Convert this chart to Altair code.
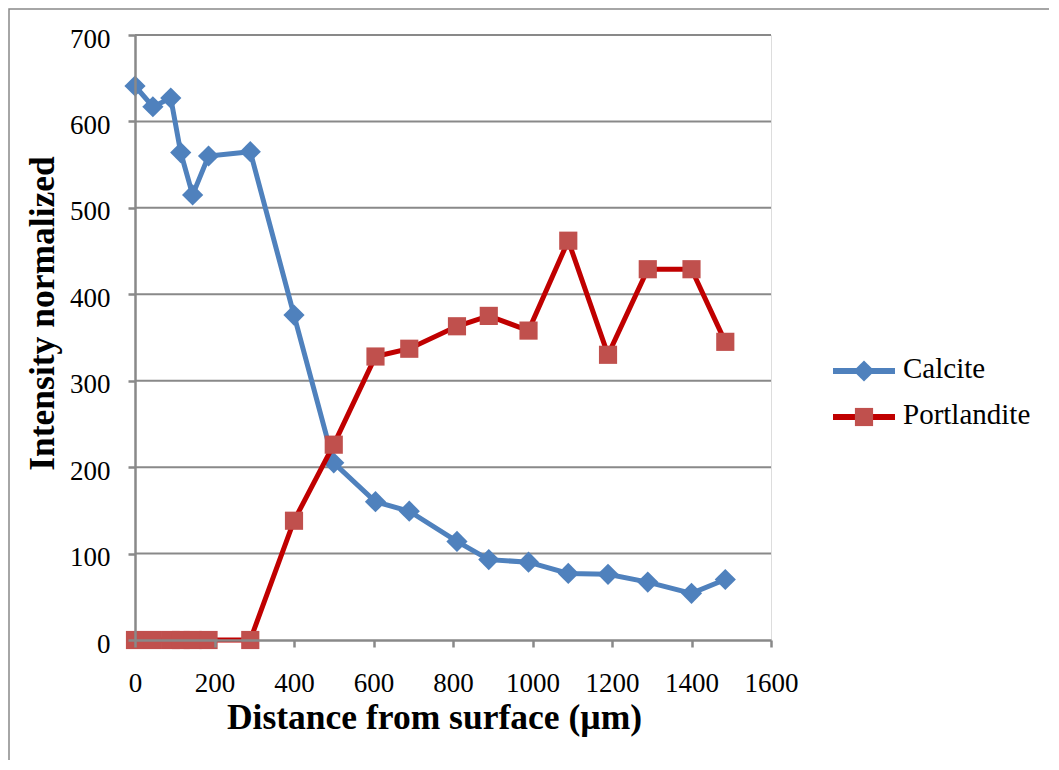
import altair as alt
import pandas as pd

distance = [0, 45, 90, 115, 145, 185, 290, 400, 500, 605, 690, 810, 890, 990, 1090, 1190, 1290, 1400, 1485]
calcite = [641, 617, 627, 564, 515, 560, 565, 376, 205, 160, 149, 114, 93, 90, 77, 76, 67, 54, 70]
portlandite = [0, 0, 0, 0, 0, 0, 0, 138, 226, 328, 337, 363, 375, 358, 462, 330, 429, 429, 345]
grid_values = [100, 200, 300, 400, 500, 600, 700]
x_ticks = [0, 200, 400, 600, 800, 1000, 1200, 1400, 1600]
y_ticks = [0, 100, 200, 300, 400, 500, 600, 700]

FONT = "Liberation Serif"
GRAY = "#898989"
BLUE = "#4F81BD"
RED_LINE = "#C00000"
RED_MARK = "#C0504D"

df_c = pd.DataFrame({"d": distance, "v": calcite})
df_p = pd.DataFrame({"d": distance, "v": portlandite})
df_g = pd.DataFrame({"g": grid_values, "d": [0] * len(grid_values)})

xscale = alt.Scale(domain=[0, 1600], nice=False, zero=False)
yscale = alt.Scale(domain=[0, 700], nice=False)

xaxis = alt.Axis(values=x_ticks, title="Distance from surface (µm)", grid=False, format="d",
                 labelOverlap=False, labelFlush=False,
                 domainColor=GRAY, domainWidth=2.5, tickColor=GRAY, tickWidth=2.5, tickSize=7,
                 labelFont=FONT, labelFontSize=27, labelColor="black", labelPadding=23,
                 titleFont=FONT, titleFontSize=35.5, titleFontWeight="bold", titleColor="black",
                 titleX=299, titleY=88, titleAlign="center", titleBaseline="alphabetic",
                 zindex=1)
yaxis = alt.Axis(values=y_ticks, title="Intensity normalized", grid=False, format="d",
                 labelOverlap=False, labelFlush=False,
                 domainColor=GRAY, domainWidth=2.5, tickColor=GRAY, tickWidth=2.5, tickSize=7,
                 labelFont=FONT, labelFontSize=27, labelColor="black", labelPadding=18,
                 labelOffset=4,
                 titleFont=FONT, titleFontSize=35.5, titleFontWeight="bold", titleColor="black",
                 titleX=-93, titleY=278, titleAlign="center", titleBaseline="middle",
                 titleAngle=270, zindex=1)

frame = alt.Chart(pd.DataFrame({"a": [0]})).mark_rect(
    filled=False, stroke=GRAY, strokeWidth=1.5
).encode(x=alt.value(-126), x2=alt.value(1100), y=alt.value(-26), y2=alt.value(900))

grid = alt.Chart(df_g).mark_rule(color=GRAY, strokeWidth=2).encode(
    y=alt.Y("g:Q", scale=yscale, axis=yaxis)
)

c_line = alt.Chart(df_c).mark_line(color=BLUE, strokeWidth=5).encode(
    x=alt.X("d:Q", scale=xscale, axis=xaxis),
    y=alt.Y("v:Q", scale=yscale, axis=yaxis),
)
c_pts = alt.Chart(df_c).mark_point(shape="diamond", filled=True, size=450, color=BLUE, opacity=1).encode(
    x=alt.X("d:Q", scale=xscale, axis=xaxis), y=alt.Y("v:Q", scale=yscale, axis=yaxis)
)
p_line = alt.Chart(df_p).mark_line(color=RED_LINE, strokeWidth=5).encode(
    x=alt.X("d:Q", scale=xscale, axis=xaxis), y=alt.Y("v:Q", scale=yscale, axis=yaxis)
)
p_pts = alt.Chart(df_p).mark_point(shape="square", filled=True, size=330, color=RED_MARK, opacity=1).encode(
    x=alt.X("d:Q", scale=xscale, axis=xaxis), y=alt.Y("v:Q", scale=yscale, axis=yaxis)
)

one = pd.DataFrame({"a": [0]})
leg_c_line = alt.Chart(one).mark_rule(color=BLUE, strokeWidth=6).encode(
    x=alt.value(698), x2=alt.value(760), y=alt.value(336))
leg_c_pt = alt.Chart(one).mark_point(shape="diamond", filled=True, size=450, color=BLUE, opacity=1).encode(
    x=alt.value(729), y=alt.value(336))
leg_c_txt = alt.Chart(one).mark_text(font=FONT, fontSize=29, align="left", baseline="middle", color="black").encode(
    x=alt.value(768), y=alt.value(334), text=alt.value("Calcite"))
leg_p_line = alt.Chart(one).mark_rule(color=RED_LINE, strokeWidth=6).encode(
    x=alt.value(698), x2=alt.value(760), y=alt.value(382))
leg_p_pt = alt.Chart(one).mark_point(shape="square", filled=True, size=330, color=RED_MARK, opacity=1).encode(
    x=alt.value(729), y=alt.value(382))
leg_p_txt = alt.Chart(one).mark_text(font=FONT, fontSize=29, align="left", baseline="middle", color="black").encode(
    x=alt.value(768), y=alt.value(380), text=alt.value("Portlandite"))

chart = alt.layer(
    frame, grid, c_line, c_pts, p_line, p_pts,
    leg_c_line, leg_c_pt, leg_c_txt, leg_p_line, leg_p_pt, leg_p_txt
).properties(
    width=636, height=605,
    autosize=alt.AutoSizeParams(type="none"),
    padding={"left": 127, "top": 27, "right": 278, "bottom": 120},
).configure_view(stroke=None).configure(background="white")

chart.save("out.html", embed_options={"renderer": "svg", "actions": False})
